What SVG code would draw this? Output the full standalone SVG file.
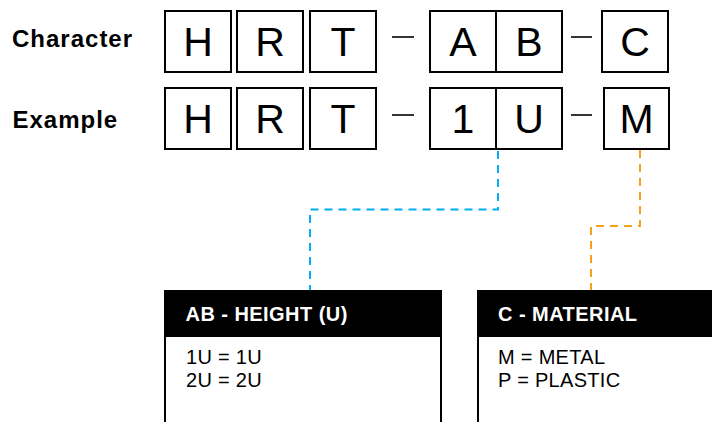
<svg xmlns="http://www.w3.org/2000/svg" width="712" height="422" viewBox="0 0 712 422">
<style>
.lbl{font-family:"Liberation Sans",Arial,sans-serif;font-weight:bold;font-size:24px;letter-spacing:1px;fill:#000}
.box{fill:#fff;stroke:#000;stroke-width:2}
.ch{font-family:"Liberation Sans",Arial,sans-serif;font-size:41px;fill:#000;text-anchor:middle}
.dash{stroke:#000;stroke-width:1.6}
.hdr{fill:#000}
.ht{font-family:"Liberation Sans",Arial,sans-serif;font-weight:bold;font-size:20px;letter-spacing:0.45px;fill:#fff}
.bt{font-family:"Liberation Sans",Arial,sans-serif;font-size:20px;letter-spacing:0.3px;fill:#000}
.conn{fill:none;stroke-width:2;stroke-dasharray:8,6}
</style>
<rect width="712" height="422" fill="#fff"/>
<g id="labels">
<text class="lbl" x="12" y="47">Character</text>
<text class="lbl" x="12.5" y="128">Example</text>
</g>
<g id="row-character">
<g id="c-H"><rect class="box" x="165" y="11" width="66" height="61"/><text class="ch" x="198" y="56">H</text></g>
<g id="c-R"><rect class="box" x="237" y="11" width="66" height="61"/><text class="ch" x="270" y="56">R</text></g>
<g id="c-T"><rect class="box" x="310" y="11" width="66" height="61"/><text class="ch" x="343" y="56">T</text></g>
<line class="dash" x1="392" y1="37" x2="414" y2="37"/>
<g id="c-AB"><rect class="box" x="430" y="11" width="132" height="61"/><line class="dash" x1="496" y1="11" x2="496" y2="72" style="stroke-width:2"/><text class="ch" x="463" y="56">A</text><text class="ch" x="529" y="56">B</text></g>
<line class="dash" x1="571" y1="37" x2="592" y2="37"/>
<g id="c-C"><rect class="box" x="602" y="11" width="66" height="61"/><text class="ch" x="635" y="56">C</text></g>
</g>
<g id="row-example">
<g id="e-H"><rect class="box" x="165" y="88" width="66" height="61"/><text class="ch" x="198" y="132.5">H</text></g>
<g id="e-R"><rect class="box" x="237" y="88" width="66" height="61"/><text class="ch" x="270" y="132.5">R</text></g>
<g id="e-T"><rect class="box" x="310" y="88" width="66" height="61"/><text class="ch" x="343" y="132.5">T</text></g>
<line class="dash" x1="392" y1="115" x2="414" y2="115"/>
<g id="e-1U"><rect class="box" x="430" y="88" width="132" height="61"/><line class="dash" x1="496" y1="88" x2="496" y2="149" style="stroke-width:2"/><text class="ch" x="463" y="132.5">1</text><text class="ch" x="529" y="132.5">U</text></g>
<line class="dash" x1="571" y1="115" x2="592" y2="115"/>
<g id="e-M"><rect class="box" x="604" y="88" width="65" height="61"/><text class="ch" x="636.5" y="132.5">M</text></g>
</g>
<g id="connectors">
<path class="conn" stroke="#00b0f0" d="M498 151 V209.5 H310 V290"/>
<path class="conn" stroke="#f7a11a" d="M640 150 V226 H591 V290"/>
</g>
<g id="height-table">
<rect x="165" y="336" width="276" height="100" fill="#fff" stroke="#000" stroke-width="2"/>
<rect class="hdr" x="164" y="290" width="278" height="46"/>
<text class="ht" x="185.5" y="321">AB - HEIGHT (U)</text>
<text class="bt" x="186" y="364">1U = 1U</text>
<text class="bt" x="186" y="387">2U = 2U</text>
</g>
<g id="material-table">
<rect x="478" y="336" width="240" height="100" fill="#fff" stroke="#000" stroke-width="2"/>
<rect class="hdr" x="477" y="290" width="240" height="46"/>
<text class="ht" x="498" y="321">C - MATERIAL</text>
<text class="bt" x="498" y="364">M = METAL</text>
<text class="bt" x="498" y="387">P = PLASTIC</text>
</g>
</svg>
